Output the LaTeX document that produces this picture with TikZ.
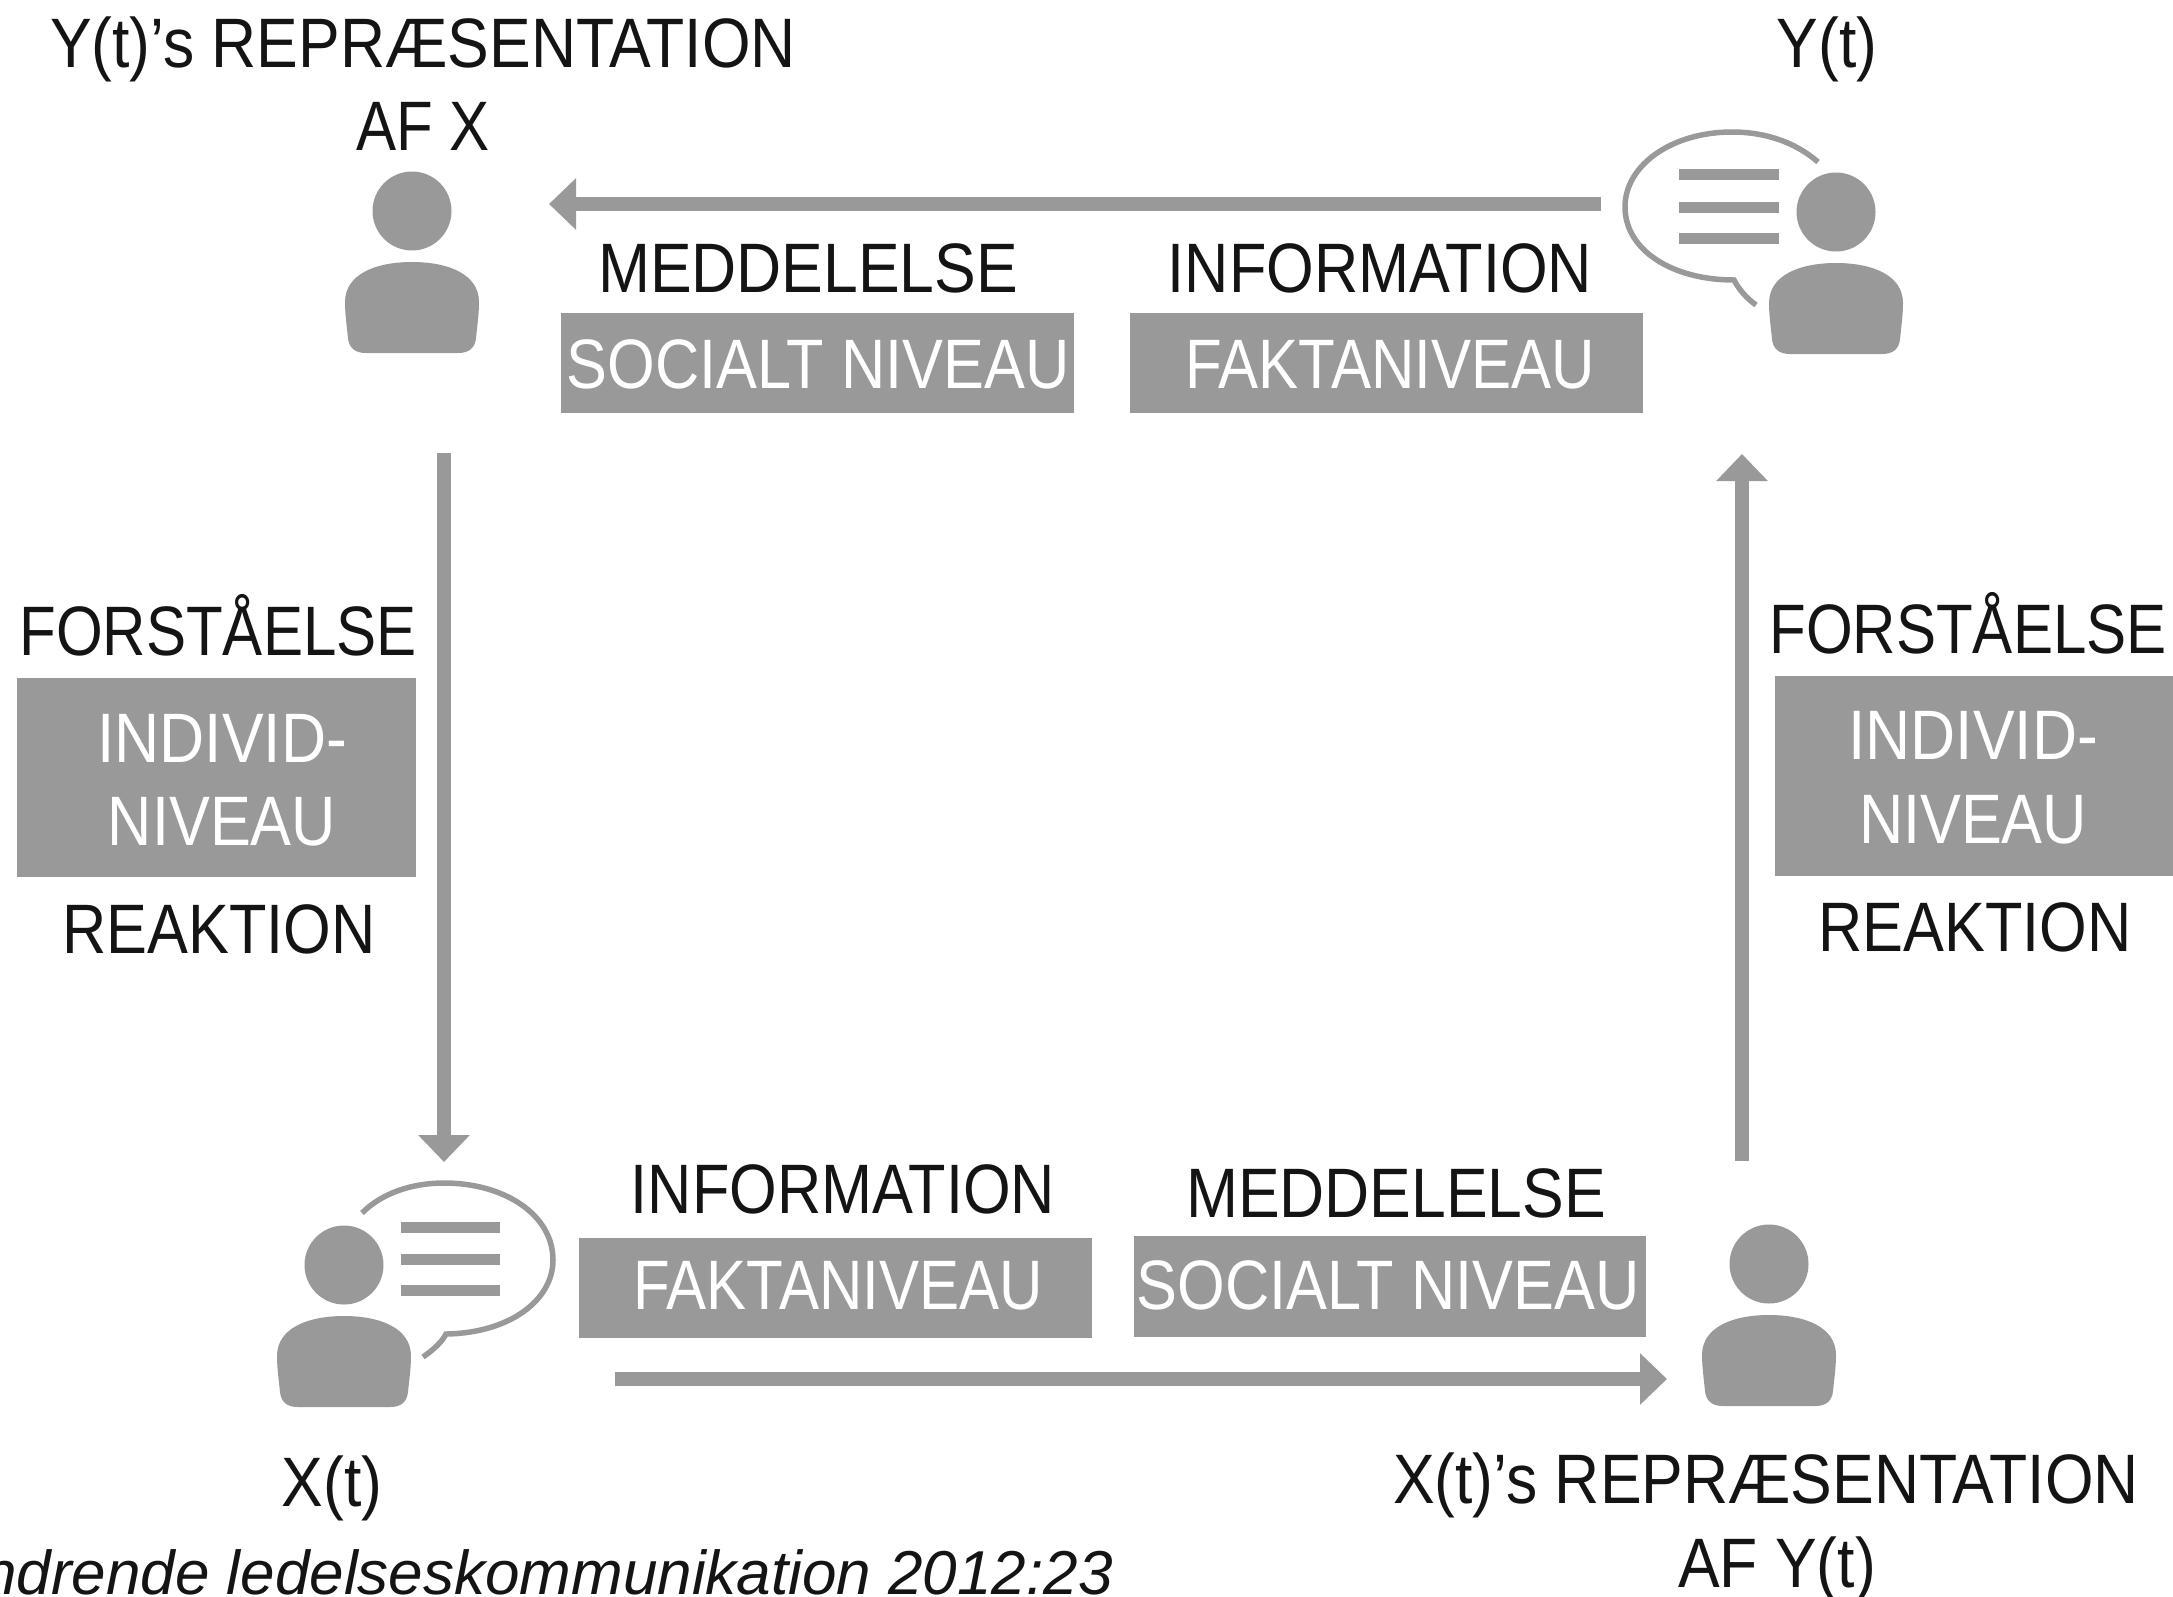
\documentclass[tikz,border=0pt]{standalone}
\usepackage{fontspec}
\setmainfont[FakeStretch=0.892]{Liberation Sans}
\newfontfamily\fntA[FakeStretch=0.858]{Liberation Sans}
\newfontfamily\fntB[FakeStretch=0.875]{Liberation Sans}
\newfontfamily\capfont[FakeStretch=1.0]{Liberation Sans}
\usetikzlibrary{arrows.meta}
\definecolor{figgrey}{HTML}{999999}
\definecolor{figink}{HTML}{141414}
\tikzset{
  x=1pt,y=-1pt,
  lbl/.style={anchor=base,inner sep=0pt,text=figink,font=\fontsize{70}{70}\selectfont},
  wlbl/.style={lbl,text=white},
  band/.style={fill=figgrey,draw=none},
  flow/.style={draw=figgrey,line width=14pt,-{Triangle[length=27pt,width=50pt]}},
  bubble/.style={draw=figgrey,line width=5.5pt,line cap=butt},
  textline/.style={draw=figgrey,line width=11pt},
  person/.pic={
    \fill[figgrey] (0,-51) circle[radius=39.5];
    \fill[figgrey] (-67,40) .. controls (-67,12) and (-36,0) .. (0,0)
      .. controls (36,0) and (67,12) .. (67,40)
      .. controls (67,52) and (65,66) .. (64,76)
      .. controls (63,86) and (57,91) .. (46,91)
      -- (-46,91) .. controls (-57,91) and (-63,86) .. (-64,76)
      .. controls (-65,66) and (-67,52) .. (-67,40) -- cycle;
  }
}
\begin{document}
\begin{tikzpicture}
\useasboundingbox (0,0) rectangle (2173,1596);
\clip (0,0) rectangle (2173,1596);

% persons
\pic at (412,262) {person};
\pic at (1836,263) {person};
\pic at (344,1316) {person};
\pic at (1769,1315) {person};

% speech bubbles
\draw[bubble] (1818,162) .. controls (1795,142) and (1765,132) .. (1732,132)
  .. controls (1672,132) and (1625,165) .. (1625,207)
  .. controls (1625,250) and (1672,280) .. (1734,280)
  .. controls (1738,288) and (1746,298) .. (1756,305);
\foreach \yy in {174,207,238} \draw[textline] (1679,\yy) -- (1779,\yy);

\draw[bubble] (362,1213) .. controls (382,1193) and (412,1183) .. (444,1183)
  .. controls (505,1183) and (553,1215) .. (553,1260)
  .. controls (553,1300) and (510,1333) .. (446,1334)
  .. controls (442,1342) and (433,1350) .. (423,1357);
\foreach \yy in {1227,1259,1290} \draw[textline] (401,\yy) -- (500,\yy);

% grey bands
\fill[band] (561,313) rectangle (1074,413);
\fill[band] (1130,313) rectangle (1643,413);
\fill[band] (579,1238) rectangle (1092,1338);
\fill[band] (1134,1236) rectangle (1646,1337);
\fill[band] (17,678) rectangle (416,877);
\fill[band] (1775,676) rectangle (2173,876);

% connectors
\coordinate (topstart) at (1601,204);
\coordinate (toptip) at (549,204);
\coordinate (leftstart) at (444,453);
\coordinate (lefttip) at (444,1162);
\coordinate (botstart) at (615,1379);
\coordinate (bottip) at (1667,1379);
\coordinate (rightstart) at (1742,1161);
\coordinate (righttip) at (1742,454);
\draw[flow] (topstart) -- (toptip);
\draw[flow] (leftstart) -- (lefttip);
\draw[flow] (botstart) -- (bottip);
\draw[flow] (rightstart) -- (righttip);

% labels
\node[lbl] (ylab1) at (423,67) {Y(t)’s REPRÆSENTATION};
\node[lbl] (ylab2) at (423,150) {\fntA AF X};
\node[lbl] (ylab) at (1827,67) {Y(t)};
\node[lbl] (tm) at (808,292) {MEDDELELSE};
\node[lbl] (ti) at (1380,292) {\fntB INFORMATION};
\node[wlbl] (ts) at (818,388) {\fntB SOCIALT NIVEAU};
\node[wlbl] (tf) at (1390,388) {\fntA FAKTANIVEAU};
\node[lbl] (lf) at (218,655) {\fntA FORSTÅELSE};
\node[wlbl] (li1) at (222,762) {INDIVID-};
\node[wlbl] (li2) at (222,845) {\fntB NIVEAU};
\node[lbl] (lr) at (219,953) {\fntB REAKTION};
\node[lbl] (rf) at (1968,653) {\fntA FORSTÅELSE};
\node[wlbl] (ri1) at (1973,759) {INDIVID-};
\node[wlbl] (ri2) at (1973,843) {\fntB NIVEAU};
\node[lbl] (rr) at (1975,951) {\fntB REAKTION};
\node[lbl] (bi) at (843,1213) {\fntB INFORMATION};
\node[lbl] (bm) at (1396,1217) {MEDDELELSE};
\node[wlbl] (bf) at (838,1309) {\fntA FAKTANIVEAU};
\node[wlbl] (bs) at (1388,1309) {\fntB SOCIALT NIVEAU};
\node[lbl] (xlab) at (332,1506) {X(t)};
\node[lbl] (xr1) at (1766,1503) {X(t)’s REPRÆSENTATION};
\node[lbl] (xr2) at (1777,1587) {AF Y(t)};
\node[anchor=base east,inner sep=0pt,text=figink,font=\capfont\itshape\fontsize{62}{62}\selectfont] (cap) at (1113,1594) {ndrende ledelseskommunikation 2012:23};
\end{tikzpicture}
\end{document}
